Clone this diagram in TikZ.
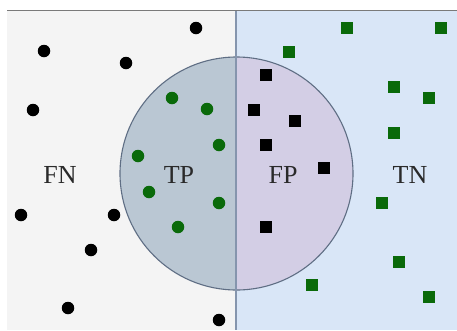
\documentclass[tikz,border=0pt]{standalone}
\usepackage{fontspec}
\setmainfont{Liberation Serif}
\definecolor{leftbg}{HTML}{F4F4F4}
\definecolor{rightbg}{HTML}{D9E6F7}
\definecolor{tpfill}{HTML}{BAC7D3}
\definecolor{fpfill}{HTML}{D3CEE5}
\definecolor{rimcol}{HTML}{5F6E84}
\definecolor{divcol}{HTML}{8595AD}
\definecolor{topline}{HTML}{7A7A7A}
\definecolor{ptgreen}{HTML}{0A6A0A}
\definecolor{labelcol}{HTML}{2A2A2A}
\tikzset{
  dotpt/.style={circle,fill=#1,draw=none,minimum size=12.5pt,inner sep=0pt},
  sqpt/.style={rectangle,fill=#1,draw=none,minimum size=12pt,inner sep=0pt},
  lbl/.style={font=\fontsize{26}{28}\selectfont,text=labelcol,inner sep=0pt}
}
\begin{document}
\begin{tikzpicture}[x=1pt,y=-1pt]
\useasboundingbox (0,0) rectangle (457,330);
\fill[white] (0,0) rectangle (457,330);
% backgrounds
\fill[leftbg] (7,10) rectangle (236,330);
\fill[rightbg] (236,10) rectangle (457,330);
\draw[topline,line width=1.5pt] (7,10.5) -- (457,10.5);
% circle halves
\begin{scope}
  \clip (0,0) rectangle (236,330);
  \fill[tpfill] (236.5,173.5) circle[radius=116.5];
\end{scope}
\begin{scope}
  \clip (236,0) rectangle (457,330);
  \fill[fpfill] (236.5,173.5) circle[radius=116.5];
\end{scope}
\draw[rimcol,line width=1.1pt] (236.5,173.5) circle[radius=116.5];
% divider
\coordinate (divtop) at (236,11);
\coordinate (divbot) at (236,330);
\draw[divcol,line width=1.4pt] (divtop) -- (divbot);
% labels
\node[lbl] (fn) at (60,175) {FN};
\node[lbl] (tp) at (179,175) {TP};
\node[lbl] (fp) at (283,175) {FP};
\node[lbl] (tn) at (410,175) {TN};
% false negatives (black dots)
\node[dotpt=black] (n1) at (196,28) {};
\node[dotpt=black] (n2) at (44,51) {};
\node[dotpt=black] (n3) at (126,63) {};
\node[dotpt=black] (n4) at (33,110) {};
\node[dotpt=black] (n5) at (21,215) {};
\node[dotpt=black] (n6) at (114,215) {};
\node[dotpt=black] (n7) at (91,250) {};
\node[dotpt=black] (n8) at (68,308) {};
\node[dotpt=black] (n9) at (219,320) {};
% true positives (green dots)
\node[dotpt=ptgreen] (p1) at (172,98) {};
\node[dotpt=ptgreen] (p2) at (207,109) {};
\node[dotpt=ptgreen] (p3) at (219,145) {};
\node[dotpt=ptgreen] (p4) at (138,156) {};
\node[dotpt=ptgreen] (p5) at (149,192) {};
\node[dotpt=ptgreen] (p6) at (219,203) {};
\node[dotpt=ptgreen] (p7) at (178,227) {};
% false positives (black squares)
\node[sqpt=black] (f1) at (266,75) {};
\node[sqpt=black] (f2) at (254,110) {};
\node[sqpt=black] (f3) at (295,121) {};
\node[sqpt=black] (f4) at (266,145) {};
\node[sqpt=black] (f5) at (324,168) {};
\node[sqpt=black] (f6) at (266,227) {};
% true negatives (green squares)
\node[sqpt=ptgreen] (t1) at (347,28) {};
\node[sqpt=ptgreen] (t2) at (441,28) {};
\node[sqpt=ptgreen] (t3) at (289,52) {};
\node[sqpt=ptgreen] (t4) at (394,87) {};
\node[sqpt=ptgreen] (t5) at (429,98) {};
\node[sqpt=ptgreen] (t6) at (394,133) {};
\node[sqpt=ptgreen] (t7) at (382,203) {};
\node[sqpt=ptgreen] (t8) at (399,262) {};
\node[sqpt=ptgreen] (t9) at (312,285) {};
\node[sqpt=ptgreen] (t10) at (429,297) {};
\end{tikzpicture}
\end{document}
